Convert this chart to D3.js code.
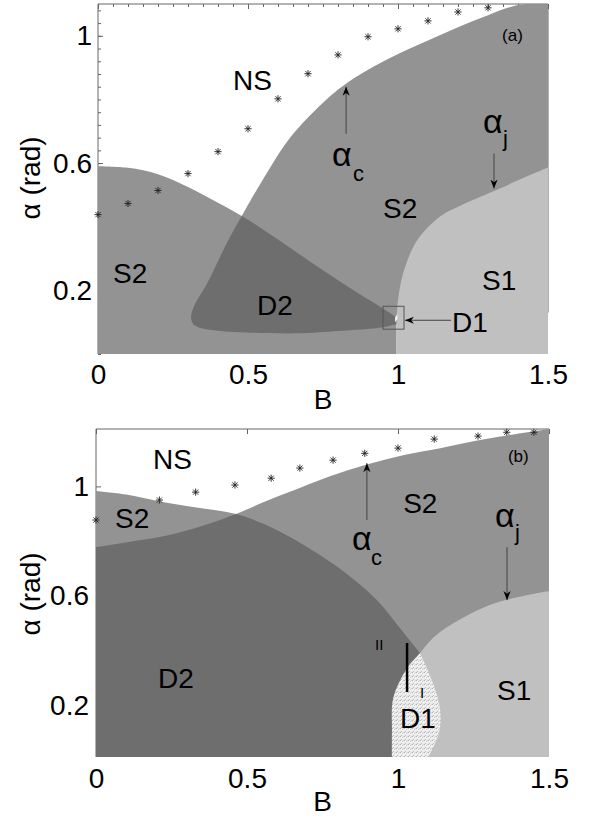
<!DOCTYPE html>
<html lang="en">
<head>
<meta charset="UTF-8" />
<title>Phase diagram</title>
<style>
  body { margin: 0; background: #fff; }
  svg text { font-family: "Liberation Sans", Arial, sans-serif; fill: #000; }
</style>
</head>
<body>
<svg id="chart" width="592" height="821"></svg>
<script src="https://d3js.org/d3.v7.min.js"></script>
<script>
// ---------- panel (a): boundaries as [B, alpha] ----------
const aLeftTop = [[0,0.59],[0.1,0.585],[0.2,0.565],[0.3,0.525],[0.4,0.475],[0.5,0.422],[0.6,0.36],[0.7,0.295],[0.8,0.232],[0.9,0.172],[0.95,0.143],[0.995,0.115]];
const aAlphaC = [[0.318,0.092],[0.31,0.115],[0.325,0.16],[0.363,0.22],[0.43,0.35],[0.48,0.435],[0.507,0.48],[0.57,0.58],[0.64,0.68],[0.75,0.79],[0.83,0.852],[0.973,0.93],[1.1,0.985],[1.2,1.027],[1.3,1.065],[1.4,1.097],[1.45,1.1]];
const aD2Bottom = [[1.0,0.095],[0.95,0.084],[0.8,0.072],[0.673,0.065],[0.507,0.067],[0.4,0.073],[0.34,0.082]];
const aAlphaJ = [[0.995,0.1],[1.0,0.168],[1.017,0.253],[1.063,0.356],[1.14,0.432],[1.2,0.463],[1.26,0.488],[1.32,0.512],[1.41,0.55],[1.5,0.586]];
const aD1 = [[0.99,0.1],[0.998,0.11],[0.998,0.125],[0.99,0.115]];
const aStarB = [0,0.1,0.2,0.3,0.4,0.5,0.6,0.7,0.8,0.9,1.0,1.1,1.2,1.3];
const aStarAlpha = [0.438,0.473,0.514,0.567,0.636,0.708,0.802,0.881,0.94,0.997,1.022,1.047,1.075,1.088];

// ---------- panel (b) ----------
const bCurveA = [[0,0.983],[0.1,0.97],[0.21,0.945],[0.35,0.92],[0.464,0.899],[0.55,0.865],[0.642,0.815],[0.8,0.705],[0.93,0.584],[1.0,0.49],[1.073,0.39]];
const bAlphaC = [[0,0.778],[0.1,0.795],[0.235,0.82],[0.35,0.855],[0.464,0.899],[0.55,0.94],[0.642,0.98],[0.77,1.035],[0.897,1.08],[1.02,1.115],[1.14,1.14],[1.3,1.175],[1.5,1.21]];
const bAlphaJ = [[1.073,0.39],[1.12,0.45],[1.2,0.51],[1.28,0.555],[1.36,0.585],[1.5,0.617]];
const bD1Left = [[0.98,0.01],[0.98,0.11],[0.983,0.22],[1.007,0.29],[1.04,0.35],[1.073,0.39]];
const bD1Right = [[1.073,0.39],[1.116,0.28],[1.14,0.18],[1.136,0.1],[1.1,0.01]];
const bStarB = [0,0.21,0.33,0.46,0.58,0.675,0.785,0.89,1.0,1.12,1.265,1.36,1.45];
const bStarAlpha = [0.877,0.95,0.979,1.005,1.03,1.067,1.096,1.121,1.14,1.173,1.184,1.198,1.198];

// tick labels
const xTicks = [0, 0.5, 1, 1.5];
const yTicks = [0.2, 0.6, 1];

// colours
const cMid = '#939393', cDark = '#6e6e6e', cLight = '#c0c0c0';

const svg = d3.select('#chart');
const defs = svg.append('defs');

defs.append('marker')
  .attr('id', 'head').attr('viewBox', '0 -5 10 10')
  .attr('refX', 10).attr('refY', 0)
  .attr('markerWidth', 9).attr('markerHeight', 9)
  .attr('markerUnits', 'userSpaceOnUse').attr('orient', 'auto')
  .append('path').attr('d', 'M0,-4L10,0L0,4L3,0Z').attr('fill', '#000');

const pat = defs.append('pattern').attr('id', 'speck')
  .attr('width', 4).attr('height', 4).attr('patternUnits', 'userSpaceOnUse');
pat.append('rect').attr('width', 4).attr('height', 4).attr('fill', '#ebebeb');
[[0,0,'#b5b5b5'],[2,1,'#cdcdcd'],[1,3,'#c2c2c2'],[3,2,'#fafafa'],[1,1,'#fff'],[3,0,'#d5d5d5']].forEach(d =>
  pat.append('rect').attr('x', d[0]).attr('y', d[1]).attr('width', 1).attr('height', 1).attr('fill', d[2]));

function panel(cfg) {
  const x = d3.scaleLinear().domain([0, 1.5]).range(cfg.xr);
  const y = d3.scaleLinear().domain(cfg.yd).range(cfg.yr);
  const g = svg.append('g');
  const lin = d3.line().x(d => x(d[0])).y(d => y(d[1]));
  const smooth = d3.line().x(d => x(d[0])).y(d => y(d[1])).curve(d3.curveCatmullRom);
  const shape = parts => parts.map((p, i) => {
    const s = (p.s ? smooth : lin)(p.pts);
    return i ? s.replace(/^M/, 'L') : s;
  }).join('') + 'Z';

  // frame with inward ticks (drawn under the fills)
  const top = g.append('g').attr('transform', `translate(0,${cfg.yr[1]})`);
  if (cfg.minorX) top.append('g').call(d3.axisTop(x).tickValues(cfg.minorX).tickSize(-3).tickFormat(''));
  top.append('g').call(d3.axisTop(x).tickValues(xTicks).tickSize(-5).tickFormat(''));
  const left = g.append('g').attr('transform', `translate(${cfg.xr[0]},0)`);
  if (cfg.minorY) left.append('g').call(d3.axisLeft(y).tickValues(cfg.minorY).tickSize(-3).tickFormat(''));
  left.append('g').call(d3.axisLeft(y).tickValues(yTicks).tickSize(-5).tickFormat(''));
  g.selectAll('.tick line').attr('stroke', '#666').attr('stroke-width', 1);
  g.selectAll('.domain').remove();
  g.append('path').attr('fill', 'none').attr('stroke', '#666')
    .attr('d', `M${cfg.xr[0]},${cfg.yr[0]}V${cfg.yr[1]}H${cfg.xr[1]}` + (cfg.rightTo != null ? `V${y(cfg.rightTo)}` : ''));

  cfg.draw(g, x, y, shape);

  // stars
  g.append('g').selectAll('path').data(d3.zip(cfg.starB, cfg.starA)).join('path')
    .attr('fill', 'none').attr('stroke', '#222').attr('stroke-width', 0.9)
    .attr('d', d => {
      const cx = x(d[0]), cy = y(d[1]), r = 3.6, q = 2.6;
      return `M${cx-r},${cy}H${cx+r}M${cx},${cy-r}V${cy+r}M${cx-q},${cy-q}L${cx+q},${cy+q}M${cx-q},${cy+q}L${cx+q},${cy-q}`;
    });

  // tick labels
  const bot = g.append('g').attr('transform', `translate(0,${cfg.yr[0]})`)
    .call(d3.axisBottom(x).tickValues(xTicks).tickSize(0).tickPadding(cfg.xPad).tickFormat(d => d));
  const lft = g.append('g').attr('transform', `translate(${cfg.xr[0]},0)`)
    .call(d3.axisLeft(y).tickValues(yTicks).tickSize(0).tickPadding(cfg.yPad).tickFormat(d => d));
  [bot, lft].forEach(a => {
    a.select('.domain').remove();
    a.selectAll('text').attr('font-size', 28).attr('font-family', '"Liberation Sans", Arial, sans-serif').attr('fill', '#000');
  });

  // axis titles
  g.append('text').attr('x', (cfg.xr[0] + cfg.xr[1]) / 2).attr('y', cfg.bY)
    .attr('text-anchor', 'middle').attr('font-size', 28).text('B');
  g.append('text').attr('transform', `translate(40,${cfg.aY}) rotate(-90)`)
    .attr('text-anchor', 'middle').attr('font-size', 28).text('α (rad)');

  // region labels
  cfg.labels.forEach(l => {
    g.append('text').attr('x', x(l[1])).attr('y', y(l[2]))
      .attr('font-size', l[3] || 28).text(l[0]);
  });
  // alpha labels with subscripts (subscript placed as its own text)
  cfg.alphas.forEach(l => {
    const ax = x(l[1]), ay = y(l[2]);
    g.append('text').attr('x', ax).attr('y', ay).attr('font-size', 34).text('α');
    g.append('text').attr('x', ax + l[3]).attr('y', ay + l[4]).attr('font-size', 22).text(l[0]);
  });
  // arrows
  cfg.arrows.forEach(a => {
    g.append('line').attr('x1', x(a[0][0])).attr('y1', y(a[0][1]))
      .attr('x2', x(a[1][0])).attr('y2', y(a[1][1]))
      .attr('stroke', '#444').attr('stroke-width', 1).attr('marker-end', 'url(#head)');
  });
  return { x, y, g };
}

// ---------------- panel (a) ----------------
panel({
  xr: [98, 548], yd: [0, 1.1], yr: [354, 4],
  minorX: d3.range(0, 1.501, 0.05), minorY: d3.range(0, 1.1, 0.04), rightTo: 0.13,
  starB: aStarB, starA: aStarAlpha,
  xPad: 10, yPad: 6, bY: 409, aY: 178,
  draw: (g, x, y, shape) => {
    const left = shape([{ pts: [[0.995, 0], [0, 0]] }, { pts: aLeftTop, s: true }]);
    const right = shape([{ pts: aAlphaC, s: true }, { pts: [[1.5, 1.1], [1.5, 0.08]] }, { pts: aD2Bottom, s: true }]);
    defs.append('clipPath').attr('id', 'clipA').append('path').attr('d', left);
    g.append('path').attr('d', left).attr('fill', cMid);
    g.append('path').attr('d', right).attr('fill', cMid);
    g.append('path').attr('d', right).attr('fill', cDark).attr('clip-path', 'url(#clipA)');
    g.append('path').attr('d', shape([{ pts: [[1.5, 0], [0.995, 0]] }, { pts: aAlphaJ, s: true }])).attr('fill', cLight);
    g.append('path').attr('d', shape([{ pts: aD1 }])).attr('fill', '#f4f4f4');
    g.append('rect').attr('x', x(0.95)).attr('y', y(0.15))
      .attr('width', x(1.02) - x(0.95)).attr('height', y(0.078) - y(0.15))
      .attr('fill', 'none').attr('stroke', '#555').attr('stroke-width', 1);
  },
  labels: [['NS', 0.45, 0.83], ['S2', 0.05, 0.222], ['D2', 0.53, 0.122], ['S2', 0.95, 0.426],
           ['S1', 1.28, 0.2], ['D1', 1.18, 0.068], ['(a)', 1.347, 0.984, 17]],
  alphas: [['c', 0.78, 0.592, 21, 15], ['j', 1.283, 0.696, 20, 13]],
  arrows: [[[0.827, 0.692], [0.827, 0.84]], [[1.32, 0.63], [1.32, 0.52]], [[1.177, 0.106], [1.023, 0.106]]]
});

// ---------------- panel (b) ----------------
panel({
  xr: [96, 549], yd: [0.01, 1.21], yr: [757, 429],
  starB: bStarB, starA: bStarAlpha,
  xPad: 11, yPad: 7, bY: 811, aY: 594,
  draw: (g, x, y, shape) => {
    const lo = 0.01;
    const belowA = shape([{ pts: bCurveA, s: true }, { pts: [[1.073, lo], [0, lo]] }]);
    const belowC = shape([{ pts: bAlphaC, s: true }, { pts: [[1.5, lo], [0, lo]] }]);
    defs.append('clipPath').attr('id', 'clipB').append('path').attr('d', belowC);
    g.append('path').attr('d', belowA).attr('fill', cMid);
    g.append('path').attr('d', belowC).attr('fill', cMid);
    g.append('path').attr('d', belowA).attr('fill', cDark).attr('clip-path', 'url(#clipB)');
    g.append('path').attr('d', shape([{ pts: [[1.5, lo], [1.0, lo], [1.05, 0.3]] }, { pts: bAlphaJ, s: true }])).attr('fill', cLight);
    g.append('path').attr('d', shape([{ pts: bD1Left, s: true }, { pts: bD1Right, s: true }])).attr('fill', 'url(#speck)');
    g.append('line').attr('x1', x(1.03)).attr('x2', x(1.03)).attr('y1', y(0.427)).attr('y2', y(0.248))
      .attr('stroke', '#000').attr('stroke-width', 2.5);
  },
  labels: [['NS', 0.189, 1.063], ['S2', 0.063, 0.848], ['S2', 1.017, 0.902], ['D2', 0.205, 0.263],
           ['D1', 1.007, 0.117], ['S1', 1.328, 0.219], ['(b)', 1.364, 1.089, 17],
           ['II', 0.924, 0.402, 15], ['I', 1.073, 0.226, 15]],
  alphas: [['c', 0.848, 0.767, 19, 15], ['j', 1.321, 0.851, 20, 13]],
  arrows: [[[0.897, 0.877], [0.897, 1.085]], [[1.361, 0.778], [1.361, 0.584]]]
});
</script>
</body>
</html>
